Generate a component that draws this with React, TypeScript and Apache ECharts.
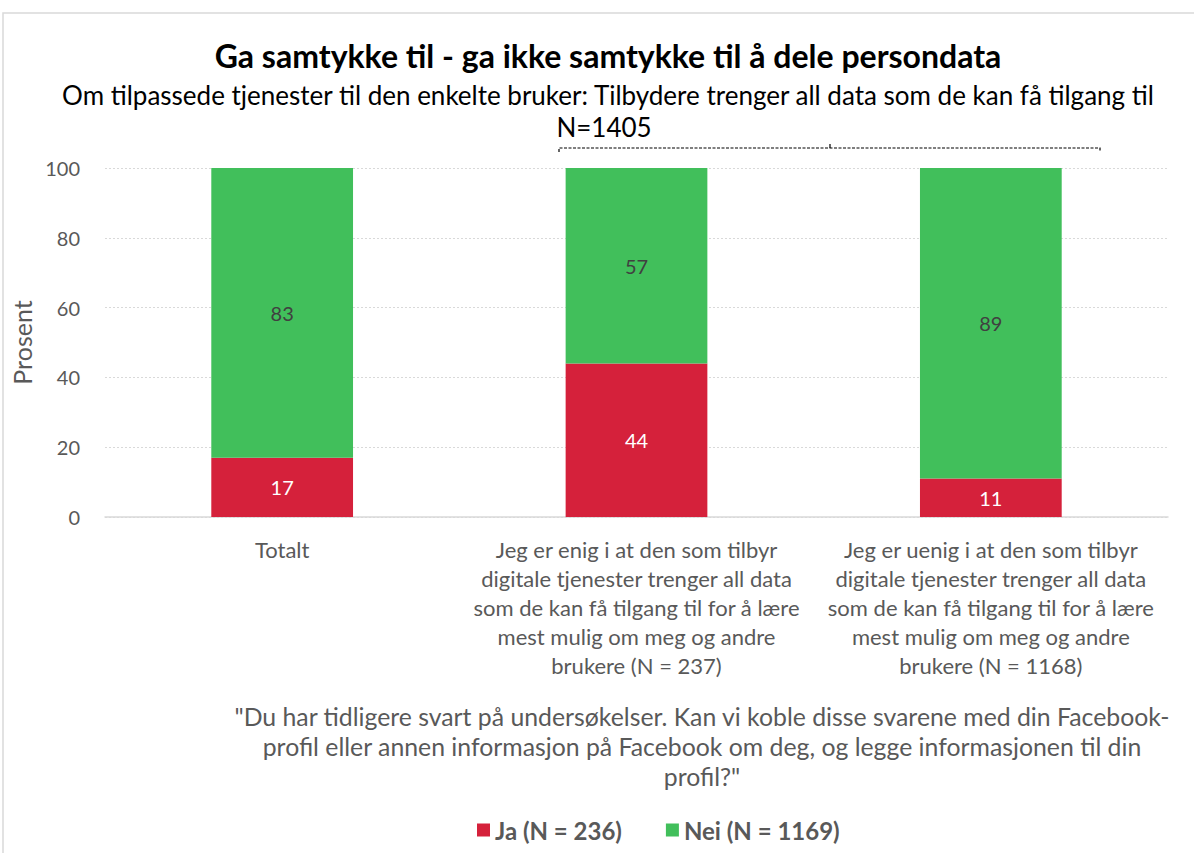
import React, { useEffect, useRef } from "react";
import * as echarts from "echarts";

const categories = [
  "Totalt",
  "Jeg er enig i at den som tilbyr\ndigitale tjenester trenger all data\nsom de kan få tilgang til for å lære\nmest mulig om meg og andre\nbrukere (N = 237)",
  "Jeg er uenig i at den som tilbyr\ndigitale tjenester trenger all data\nsom de kan få tilgang til for å lære\nmest mulig om meg og andre\nbrukere (N = 1168)",
];
const jaValues = [17, 44, 11];
const neiValues = [83, 57, 89];
const seriesNames = ["Ja (N = 236)", "Nei (N = 1169)"];
const yTicks = { min: 0, max: 100, interval: 20 };

const titleText = "Ga samtykke til - ga ikke samtykke til å dele persondata";
const subtitleText =
  "Om tilpassede tjenester til den enkelte bruker: Tilbydere trenger all data som de kan få tilgang til";
const nText = "N=1405";
const footText =
  '"Du har tidligere svart på undersøkelser. Kan vi koble disse svarene med din Facebook-\nprofil eller annen informasjon på Facebook om deg, og legge informasjonen til din\nprofil?"';

const FONT = "Lato, 'Open Sans', sans-serif";
const GRAY = "#595959";
const RED = "#D5213B";
const GREEN = "#41BF5B";

export default function App() {
  const ref = useRef<HTMLDivElement>(null);
  useEffect(() => {
    const chart = echarts.init(ref.current!, null, { renderer: "svg" });
    chart.setOption({
      animation: false,
      backgroundColor: "#ffffff",
      textStyle: { fontFamily: FONT },
      graphic: [
        {
          type: "rect",
          shape: { x: 3, y: 13, width: 1300, height: 1000 },
          style: { fill: "none", stroke: "#d9d9d9", lineWidth: 1.5 },
          silent: true,
        },
        {
          type: "text",
          x: 608,
          y: 55,
          style: {
            text: titleText,
            font: `bold 32px ${FONT}`,
            fill: "#000000",
            textAlign: "center",
            textVerticalAlign: "middle",
          },
        },
        {
          type: "text",
          x: 608,
          y: 95,
          style: {
            text: subtitleText,
            font: `26px ${FONT}`,
            fill: "#000000",
            textAlign: "center",
            textVerticalAlign: "middle",
          },
        },
        {
          type: "text",
          x: 604,
          y: 127,
          style: {
            text: nText,
            font: `26px ${FONT}`,
            fill: "#000000",
            textAlign: "center",
            textVerticalAlign: "middle",
          },
        },
        {
          type: "polyline",
          shape: { points: [[559, 152], [559, 148], [1100, 148], [1100, 152]] },
          style: { stroke: "#000000", lineWidth: 1.2, lineDash: [3, 1.5], fill: "none" },
        },
        {
          type: "line",
          shape: { x1: 830, y1: 148, x2: 830, y2: 144 },
          style: { stroke: "#000000", lineWidth: 1.2 },
        },
        {
          type: "text",
          x: 702,
          y: 746,
          style: {
            text: footText,
            font: `24.8px ${FONT}`,
            lineHeight: 30,
            fill: GRAY,
            textAlign: "center",
            textVerticalAlign: "middle",
          },
        },
      ],
      legend: {
        bottom: 6,
        left: 472,
        itemWidth: 13,
        itemHeight: 13,
        itemGap: 44,
        icon: "rect",
        textStyle: { color: GRAY, fontSize: 24, fontWeight: "bold", fontFamily: FONT },
        data: seriesNames,
      },
      grid: { left: 105, right: 26, top: 168, bottom: 336 },
      xAxis: {
        type: "category",
        data: categories,
        axisLine: { lineStyle: { color: "#d9d9d9", width: 1.5 } },
        axisTick: { show: false },
        axisLabel: {
          color: GRAY,
          fontSize: 22,
          lineHeight: 29,
          margin: 18,
          interval: 0,
          fontFamily: FONT,
        },
      },
      yAxis: {
        type: "value",
        min: yTicks.min,
        max: yTicks.max,
        interval: yTicks.interval,
        name: "Prosent",
        nameLocation: "middle",
        nameGap: 61,
        nameRotate: 90,
        nameTextStyle: { color: GRAY, fontSize: 25, fontFamily: FONT },
        axisLine: { show: false },
        axisTick: { show: false },
        axisLabel: { color: GRAY, fontSize: 20, margin: 25, fontFamily: FONT },
        splitLine: { lineStyle: { color: "#d9d9d9", type: [2, 2], width: 1 } },
      },
      series: [
        {
          name: seriesNames[0],
          type: "bar",
          stack: "total",
          data: jaValues,
          barWidth: "40%",
          itemStyle: { color: RED },
          label: {
            show: true,
            position: "inside",
            color: "#ffffff",
            fontSize: 20,
            fontFamily: FONT,
          },
        },
        {
          name: seriesNames[1],
          type: "bar",
          stack: "total",
          data: neiValues,
          barWidth: "40%",
          itemStyle: { color: GREEN },
          label: {
            show: true,
            position: "inside",
            color: "#404040",
            fontSize: 20,
            fontFamily: FONT,
          },
        },
      ],
    });
    return () => chart.dispose();
  }, []);
  return (
    <div
      ref={ref}
      style={{ position: "fixed", left: 0, top: 0, width: 1194, height: 853 }}
    />
  );
}
